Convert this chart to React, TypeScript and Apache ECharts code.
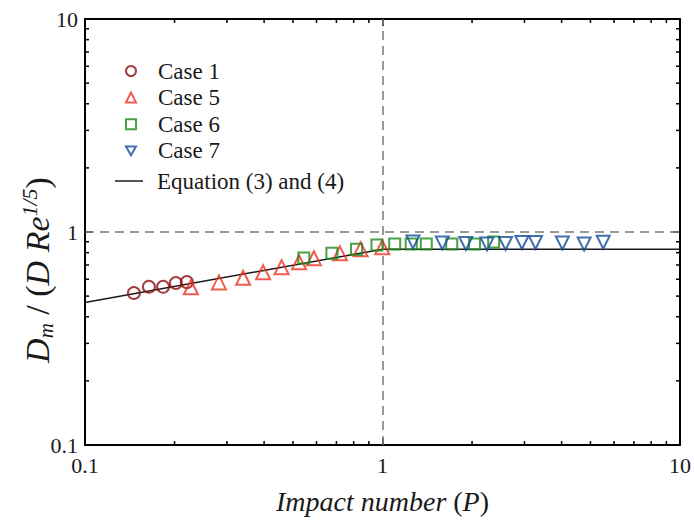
import React, { useEffect, useRef } from "react";
import * as echarts from "echarts";

const case1: number[][] = [
  [0.146, 0.517], [0.164, 0.553], [0.183, 0.553], [0.202, 0.576], [0.22, 0.582],
];
const case5: number[][] = [
  [0.227, 0.55], [0.282, 0.58], [0.34, 0.61], [0.397, 0.647], [0.458, 0.683],
  [0.524, 0.721], [0.588, 0.753], [0.719, 0.794], [0.844, 0.83], [0.998, 0.848],
];
const case6: number[][] = [
  [0.544, 0.755], [0.676, 0.794], [0.818, 0.83], [0.958, 0.869], [1.099, 0.879],
  [1.249, 0.879], [1.403, 0.879], [1.709, 0.879], [2.038, 0.879], [2.364, 0.898],
];
const case7: number[][] = [
  [1.266, 0.897], [1.589, 0.888], [1.906, 0.884], [2.245, 0.878], [2.592, 0.884],
  [2.942, 0.893], [3.268, 0.893], [4.024, 0.888], [4.762, 0.878], [5.52, 0.895],
];
const equation: number[][] = [[0.1, 0.467], [1, 0.83], [10, 0.83]];
const tickLabels = ["0.1", "1", "10"];
const minorTicks = [0.2, 0.3, 0.4, 0.5, 0.6, 0.7, 0.8, 0.9, 2, 3, 4, 5, 6, 7, 8, 9];
const caseNames = ["Case 1", "Case 5", "Case 6", "Case 7"];
const caseColors = ["#8B0E0E", "#EE3322", "#1A8A1A", "#124C99"];
const eqName = "Equation (3) and (4)";

const AX_MIN = 0.1;
const AX_MAX = 10;
const FONT = "Liberation Serif";
const INV_TRI = "path://M0,0L20,0L10,17.32Z";

export default function App() {
  const ref = useRef<HTMLDivElement>(null);
  useEffect(() => {
    if (!ref.current) return;
    const chart = echarts.init(ref.current, null, { renderer: "svg" });
    const labelFmt = (_v: number, i: number) => tickLabels[i] ?? String(_v);
    const axisCommon = {
      type: "log" as const,
      logBase: 10,
      min: AX_MIN,
      max: AX_MAX,
      axisLine: { show: true, lineStyle: { color: "#000", width: 2 } },
      axisTick: { show: true, inside: true, length: 7, lineStyle: { color: "#000", width: 1.5 } },
      splitLine: { show: false },
    };
    const tickLen = 4;
    const tickStyle = { stroke: "#000", lineWidth: 1.5 };
    const scatterBase = (name: string, data: number[][], symbol: string, size: number, color: string) => ({
      name,
      type: "scatter",
      data,
      symbol,
      symbolSize: size,
      itemStyle: { color: "rgba(0,0,0,0)", borderColor: color, borderWidth: 2 },
      z: 5,
    });
    const legendText = (pad: number) => ({
      fontFamily: FONT,
      fontSize: 23,
      color: "#1a1a1a",
      lineHeight: 24,
      padding: [0, 0, 0, pad],
    });
    chart.setOption({
      animation: false,
      backgroundColor: "#fff",
      grid: { left: 85, right: 13, top: 19, bottom: 76, containLabel: false },
      xAxis: [
        {
          ...axisCommon,
          position: "bottom",
          axisLabel: { formatter: labelFmt, fontFamily: FONT, fontSize: 22, color: "#1a1a1a", margin: 9 },
          name: "{i|Impact number }{n|(}{i|P}{n|)}",
          nameLocation: "middle",
          nameGap: 42,
          nameTextStyle: {
            rich: {
              i: { fontFamily: FONT, fontStyle: "italic", fontSize: 28, color: "#1a1a1a" },
              n: { fontFamily: FONT, fontSize: 28, color: "#1a1a1a" },
            },
          },
        },
        { ...axisCommon, position: "top", axisLabel: { show: false } },
      ],
      yAxis: [
        {
          ...axisCommon,
          position: "left",
          axisLabel: { formatter: labelFmt, fontFamily: FONT, fontSize: 22, color: "#1a1a1a", margin: 7 },
        },
        { ...axisCommon, position: "right", axisLabel: { show: false } },
      ],
      legend: [
        {
          data: [
            { name: caseNames[0], icon: "circle" },
            { name: caseNames[1], icon: "triangle" },
            { name: caseNames[2], icon: "rect" },
            { name: caseNames[3], icon: INV_TRI },
          ],
          orient: "vertical",
          left: 120,
          top: 54,
          itemWidth: 10,
          itemHeight: 10,
          itemGap: 2.6,
          textStyle: legendText(17),
          selectedMode: false,
        },
        {
          data: [{ name: eqName, icon: "rect" }],
          orient: "vertical",
          left: 110,
          top: 164,
          itemWidth: 28,
          itemHeight: 1.5,
          textStyle: legendText(9),
          selectedMode: false,
        },
      ],
      graphic: [
        {
          type: "text",
          x: 37,
          y: 270,
          rotation: Math.PI / 2,
          style: {
            text: "{i|D}{sub|m}{n| / (}{i|D Re}{sup|1/5}{n|)}",
            align: "center",
            verticalAlign: "middle",
            rich: {
              i: { fontFamily: FONT, fontStyle: "italic", fontSize: 34, lineHeight: 38, fill: "#1a1a1a" },
              n: { fontFamily: FONT, fontSize: 34, lineHeight: 38, fill: "#1a1a1a" },
              sub: { fontFamily: FONT, fontStyle: "italic", fontSize: 21, lineHeight: 21, verticalAlign: "bottom", fill: "#1a1a1a" },
              sup: { fontFamily: FONT, fontStyle: "italic", fontSize: 22, lineHeight: 22, verticalAlign: "top", fill: "#1a1a1a" },
            },
          },
        },
      ],
      series: [
        {
          name: eqName,
          type: "line",
          data: equation,
          symbol: "none",
          itemStyle: { color: "#1a1a1a" },
          lineStyle: { color: "#1a1a1a", width: 1.5 },
          z: 3,
          markLine: {
            silent: true,
            symbol: ["none", "none"],
            label: { show: false },
            lineStyle: { color: "#7a7a7a", width: 1.5, type: [9, 6] },
            data: [{ xAxis: 1 }, { yAxis: 1 }],
          },
        },
        scatterBase(caseNames[0], case1, "circle", 12, caseColors[0]),
        scatterBase(caseNames[1], case5, "triangle", 14, caseColors[1]),
        scatterBase(caseNames[2], case6, "rect", 11, caseColors[2]),
        scatterBase(caseNames[3], case7, INV_TRI, 13, caseColors[3]),
        {
          type: "custom",
          silent: true,
          data: minorTicks.map((v) => [v, 1]),
          renderItem: (_p: any, api: any) => {
            const v = api.value(0);
            const b = api.coord([v, AX_MIN]);
            const t = api.coord([v, AX_MAX]);
            return {
              type: "group",
              children: [
                { type: "line", shape: { x1: b[0], y1: b[1], x2: b[0], y2: b[1] - tickLen }, style: tickStyle },
                { type: "line", shape: { x1: t[0], y1: t[1], x2: t[0], y2: t[1] + tickLen }, style: tickStyle },
              ],
            };
          },
          z: 2,
        },
        {
          type: "custom",
          silent: true,
          data: minorTicks.map((v) => [1, v]),
          renderItem: (_p: any, api: any) => {
            const v = api.value(1);
            const l = api.coord([AX_MIN, v]);
            const r = api.coord([AX_MAX, v]);
            return {
              type: "group",
              children: [
                { type: "line", shape: { x1: l[0], y1: l[1], x2: l[0] + tickLen, y2: l[1] }, style: tickStyle },
                { type: "line", shape: { x1: r[0], y1: r[1], x2: r[0] - tickLen, y2: r[1] }, style: tickStyle },
              ],
            };
          },
          z: 2,
        },
      ],
    });
    return () => chart.dispose();
  }, []);
  return (
    <div
      ref={ref}
      style={{ position: "absolute", left: 0, top: 0, width: 694, height: 521 }}
    />
  );
}
